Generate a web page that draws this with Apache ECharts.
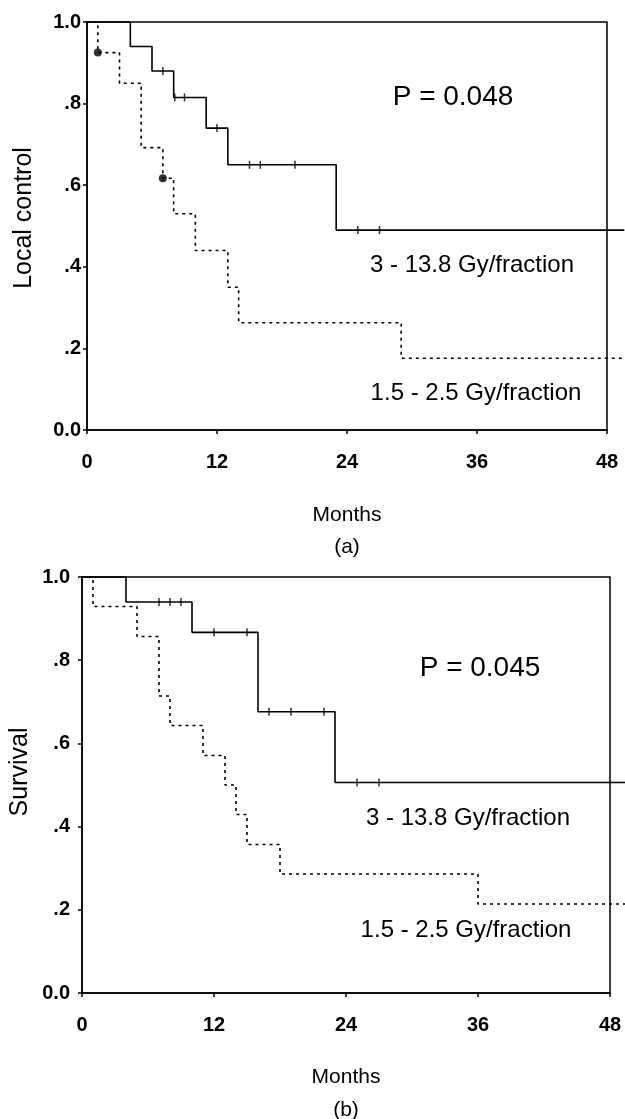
<!DOCTYPE html>
<html>
<head>
<meta charset="utf-8">
<script src="https://cdn.jsdelivr.net/npm/echarts@6/dist/echarts.min.js"></script>
<style>
  html, body { margin: 0; padding: 0; background: #fff; }
  #main { width: 625px; height: 1119px; }
</style>
</head>
<body>
<div id="main"></div>
<script>
// (a) local control, months / proportion
var lcHighT = [0, 4, 6, 8, 11, 13, 23];
var lcHighS = [1, 0.94, 0.88, 0.815, 0.74, 0.65, 0.49];
var lcHighCensor = [7, 8.1, 9, 12, 15, 16, 19.2, 25, 27];
var lcLowT = [0, 1, 3, 5, 7, 8, 10, 13, 14, 29];
var lcLowS = [1, 0.925, 0.85, 0.692, 0.617, 0.53, 0.44, 0.35, 0.263, 0.176];
var lcLowDots = [1, 7];

// (b) survival
var svHighT = [0, 4, 10, 16, 23];
var svHighS = [1, 0.94, 0.867, 0.676, 0.506];
var svHighCensor = [7, 8, 9, 12, 15, 17, 19, 22, 25, 27];
var svLowT = [0, 1, 5, 7, 8, 11, 13, 14, 15, 18, 36];
var svLowS = [1, 0.929, 0.857, 0.714, 0.643, 0.571, 0.5, 0.429, 0.357, 0.286, 0.214];

var endMonth = 49.6;   // curves run on past the 48 month frame
var xTicks = [0, 12, 24, 36, 48];
var yTickText = {'0': '0.0', '0.2': '.2', '0.4': '.4', '0.6': '.6', '0.8': '.8', '1': '1.0'};

var FONT = "'Liberation Sans', Arial, Helvetica, sans-serif";
var W = 625;
var boxes = [
  {left: 87, top: 22, width: 520, height: 408},
  {left: 82, top: 577, width: 528, height: 416}
];

function stepAt(T, S, t) {
  var s = S[0];
  for (var i = 0; i < T.length; i++) { if (T[i] <= t) s = S[i]; }
  return s;
}
function curve(T, S) {
  var d = T.map(function (t, i) { return [t, S[i]]; });
  d.push([endMonth, S[S.length - 1]]);
  return d;
}
function marks(T, S, times) {
  return times.map(function (t) { return [t, stepAt(T, S, t)]; });
}

var xMax = xTicks[xTicks.length - 1];
function xAx(gi) {
  return {
    gridIndex: gi, type: 'value', min: xTicks[0], max: xMax, interval: 12,
    axisLine: {lineStyle: {color: '#000', width: 1.5}},
    axisTick: {show: true, length: 4, lineStyle: {color: '#000', width: 1.5}},
    axisLabel: {color: '#000', fontSize: 20, fontWeight: 'bold', fontFamily: FONT, margin: 22},
    splitLine: {show: false}
  };
}
function yAx(gi, margin) {
  return {
    gridIndex: gi, type: 'value', min: 0, max: 1, interval: 0.2,
    axisLine: {lineStyle: {color: '#000', width: 1.5}},
    axisTick: {show: true, length: 4, lineStyle: {color: '#000', width: 1.5}},
    axisLabel: {color: '#000', fontSize: 20, fontWeight: 'bold', fontFamily: FONT, margin: margin,
      formatter: function (v) { return yTickText[String(+v.toFixed(1))]; }},
    splitLine: {show: false}
  };
}
// hidden overlay axes: same scale, grid stretched to the page edge
function xHidden(gi, box) {
  return {gridIndex: gi, type: 'value', show: false, min: 0,
    max: xMax * (W - box.left) / box.width};
}
function yHidden(gi) {
  return {gridIndex: gi, type: 'value', show: false, min: 0, max: 1};
}
function stepLine(gi, T, S, dash) {
  return {type: 'line', xAxisIndex: gi, yAxisIndex: gi, step: 'end', data: curve(T, S),
    showSymbol: false, clip: false, silent: true,
    lineStyle: {color: '#000', width: 1.6, type: dash ? [3, 4] : 'solid'}};
}
function censor(gi, T, S, times) {
  return {type: 'scatter', xAxisIndex: gi, yAxisIndex: gi, data: marks(T, S, times),
    symbol: 'rect', symbolSize: [1.5, 8], silent: true, itemStyle: {color: '#000'}};
}

function txt(s, x, y, size, rot) {
  return {type: 'text', x: x, y: y, rotation: rot || 0, silent: true,
    style: {text: s, font: size + 'px ' + FONT, fill: '#000',
      textAlign: 'center', textVerticalAlign: 'middle', align: 'center', verticalAlign: 'middle'}};
}

var myChart = echarts.init(document.getElementById('main'));
var option = {
  animation: false,
  backgroundColor: '#fff',
  grid: [
    Object.assign({show: true, borderColor: '#000', borderWidth: 1.5}, boxes[0]),
    Object.assign({show: true, borderColor: '#000', borderWidth: 1.5}, boxes[1]),
    {left: boxes[0].left, top: boxes[0].top, width: W - boxes[0].left, height: boxes[0].height},
    {left: boxes[1].left, top: boxes[1].top, width: W - boxes[1].left, height: boxes[1].height}
  ],
  xAxis: [xAx(0), xAx(1), xHidden(2, boxes[0]), xHidden(3, boxes[1])],
  yAxis: [yAx(0, 6), yAx(1, 12), yHidden(2), yHidden(3)],
  series: [
    stepLine(2, lcHighT, lcHighS, false),
    censor(0, lcHighT, lcHighS, lcHighCensor),
    stepLine(2, lcLowT, lcLowS, true),
    {type: 'scatter', xAxisIndex: 0, yAxisIndex: 0, data: marks(lcLowT, lcLowS, lcLowDots),
      symbol: 'circle', symbolSize: 8, silent: true, itemStyle: {color: '#000'}},
    stepLine(3, svHighT, svHighS, false),
    censor(1, svHighT, svHighS, svHighCensor),
    stepLine(3, svLowT, svLowS, true)
  ],
  graphic: [
    txt('P = 0.048', 453, 97, 28),
    txt('3 - 13.8 Gy/fraction', 472, 265, 24),
    txt('1.5 - 2.5 Gy/fraction', 476, 393, 24),
    txt('Local control', 24, 218, 25, Math.PI / 2),
    txt('Months', 347, 515, 21),
    txt('(a)', 347, 547, 21),
    txt('P = 0.045', 480, 668, 28),
    txt('3 - 13.8 Gy/fraction', 468, 818, 24),
    txt('1.5 - 2.5 Gy/fraction', 466, 930, 24),
    txt('Survival', 20, 772, 25, Math.PI / 2),
    txt('Months', 346, 1077, 21),
    txt('(b)', 346, 1110, 21)
  ]
};
myChart.setOption(option);
</script>
</body>
</html>
